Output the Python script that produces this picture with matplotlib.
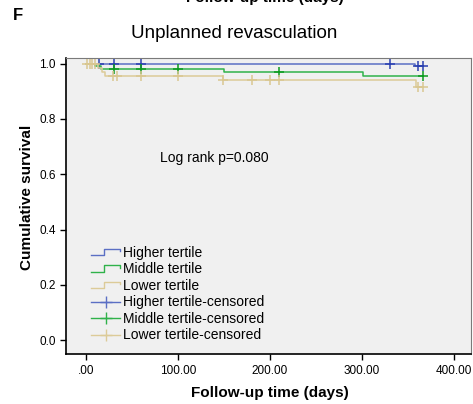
# Kaplan-Meier style plot: unplanned revascularisation by tertile

import numpy as np
import matplotlib
matplotlib.use("Agg")
import matplotlib.pyplot as plt
from matplotlib.legend_handler import HandlerBase
from matplotlib.lines import Line2D

plt.rcParams["font.family"] = ["Liberation Sans", "DejaVu Sans"]

# survival curves (step, post)
higher_t = [0, 358, 366]
higher_s = [1.0, 0.990, 0.990]
middle_t = [0, 10, 16, 150, 301, 366]
middle_s = [1.0, 0.990, 0.979, 0.968, 0.956, 0.956]
lower_t = [0, 13, 17, 21, 149, 359, 366]
lower_s = [1.0, 0.985, 0.970, 0.955, 0.941, 0.916, 0.916]

# censored times
higher_cens = [14, 30, 60, 330, 361, 366]
middle_cens = [30, 60, 100, 210, 366]
lower_cens = [1, 4, 7, 10, 29, 34, 60, 100, 149, 180, 200, 210, 361, 366]

group_names = ["Higher tertile", "Middle tertile", "Lower tertile"]
line_colors = ["#5b6fc4", "#2fb24a", "#dccb98"]
mark_colors = ["#2a40b0", "#0c9a1e", "#d9c791"]

x_ticks = [0, 100, 200, 300, 400]
x_ticklabels = [".00", "100.00", "200.00", "300.00", "400.00"]
y_ticks = [0.0, 0.2, 0.4, 0.6, 0.8, 1.0]


def surv_at(times, surv, t):
    idx = np.searchsorted(times, t, side="right") - 1
    return np.asarray(surv)[idx]


class StepHandler(HandlerBase):
    def create_artists(self, legend, orig, xd, yd, w, h, fontsize, trans):
        xs = [xd, xd + w * 0.45, xd + w * 0.45, xd + w, xd + w]
        ys = [yd + h * 0.2, yd + h * 0.2, yd + h * 0.85, yd + h * 0.85, yd + h * 0.6]
        ln = Line2D(xs, ys, color=orig.get_color(), lw=1.0, transform=trans)
        return [ln]


fig = plt.figure(figsize=(4.73, 4.04), dpi=100)
ax = fig.add_axes([66 / 473, 50 / 404, 405 / 473, 296 / 404])
ax.set_facecolor("#f0f0f0")

curves = [(higher_t, higher_s, higher_cens),
          (middle_t, middle_s, middle_cens),
          (lower_t, lower_s, lower_cens)]

step_handles = []
cens_handles = []
for (t, s, c), name, lc, mc in zip(curves, group_names, line_colors, mark_colors):
    h, = ax.step(t, s, where="post", color=lc, lw=1.1, label=name)
    step_handles.append(h)
    cs = surv_at(t, s, c)
    ax.plot(c, cs, "+", color=mc, ms=7, mew=1.1, ls="none")
    cens_handles.append(Line2D([0, 1], [0, 0], color=lc, marker="+", ms=9,
                               mew=1.0, mec=lc, lw=1.0))

ax.set_xlim(-21.7, 418.5)
ax.set_ylim(-0.05, 1.02)
ax.set_xticks(x_ticks)
ax.set_xticklabels(x_ticklabels)
ax.set_yticks(y_ticks)
ax.set_yticklabels([f"{v:.1f}" for v in y_ticks])
ax.tick_params(direction="out", length=4, width=1, labelsize=8.5, colors="black")
ax.tick_params(axis="x", pad=4)

for side in ["top", "right"]:
    ax.spines[side].set_color("#7a7a7a")
    ax.spines[side].set_linewidth(0.8)
for side in ["left", "bottom"]:
    ax.spines[side].set_color("black")
    ax.spines[side].set_linewidth(1.2)

fig.text(234 / 473, 1 - 34 / 404, "Unplanned revasculation", fontsize=13.5,
         ha="center", va="center")
fig.text(270 / 473, 1 - 393 / 404, "Follow-up time (days)", fontsize=11,
         fontweight="bold", ha="center", va="center")
fig.text(27 / 473, 1 - 197 / 404, "Cumulative survival", fontsize=11,
         fontweight="bold", ha="center", va="center", rotation=90)

ax.text(80.4, 0.66, "Log rank p=0.080", fontsize=10, va="center")

labels = group_names + [n + "-censored" for n in group_names]
handler_map = {h: StepHandler() for h in step_handles}
ax.legend(step_handles + cens_handles, labels, handler_map=handler_map,
          loc="upper left", bbox_to_anchor=(0.062, 0.365), frameon=False,
          fontsize=10, handlelength=2.1, handletextpad=0.2,
          labelspacing=0.18, borderpad=0, borderaxespad=0)

fig.text(13 / 473, 1 - 15 / 404, "F", fontsize=12, fontweight="bold", va="center")
fig.text(265 / 473, 1 - 2 / 404, "Follow-up time (days)", fontsize=11,
         fontweight="bold", ha="center", va="baseline")

fig.savefig("out.png", dpi=100)
